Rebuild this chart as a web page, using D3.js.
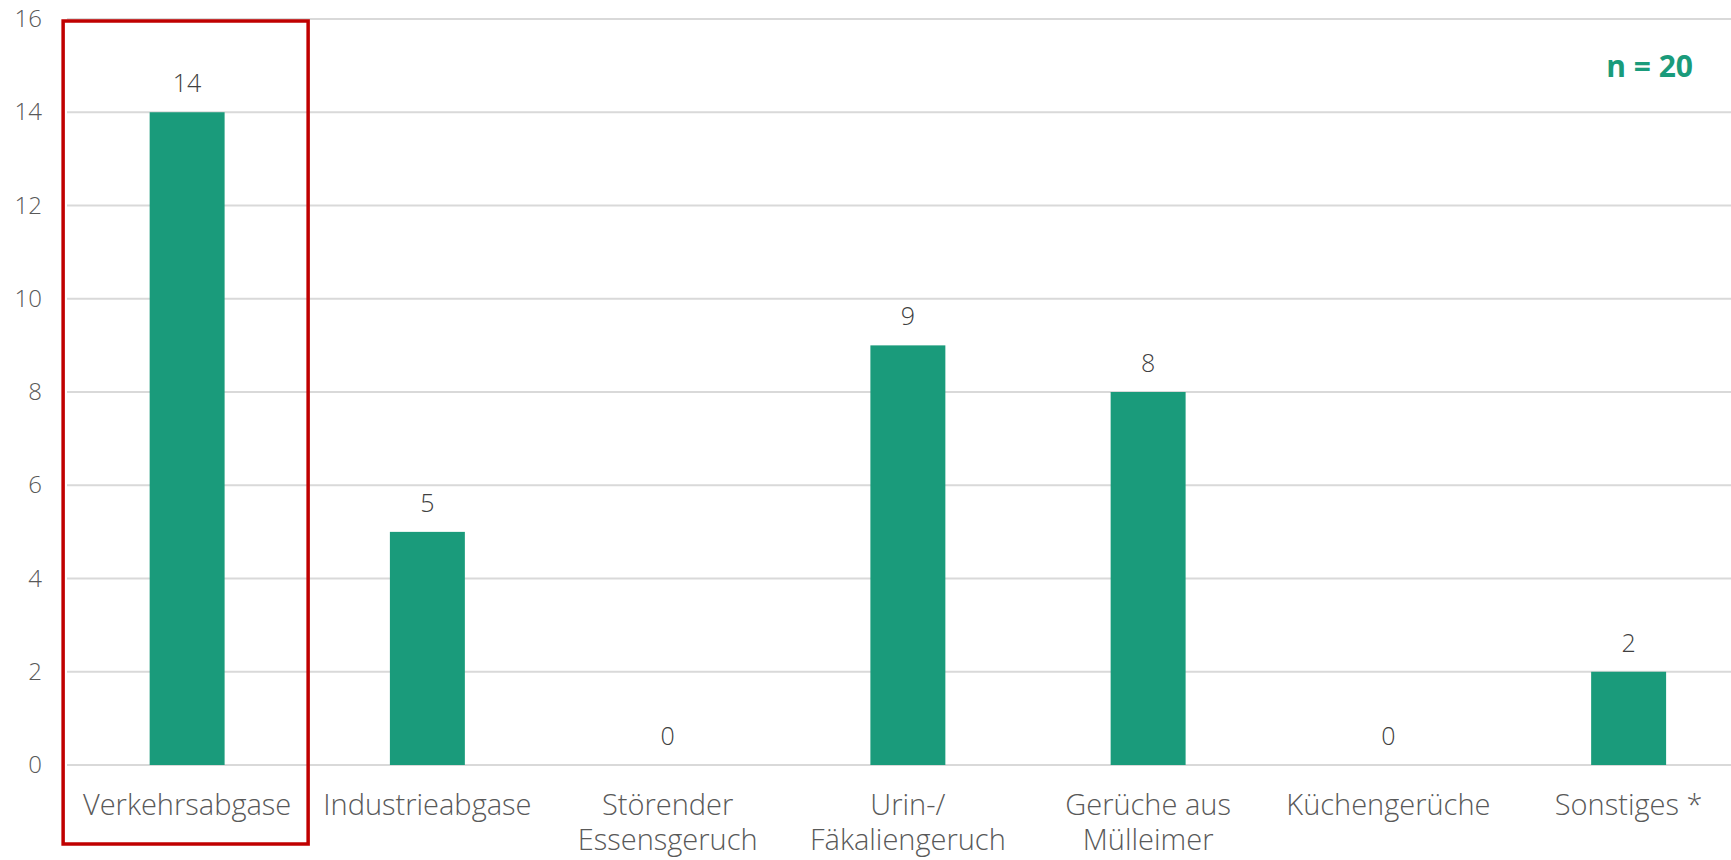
<!DOCTYPE html>
<html>
<head>
<meta charset="utf-8">
<script src="https://cdn.jsdelivr.net/npm/d3@7"></script>
<style>
  body { margin: 0; background: #fff; }
  svg text { font-family: "Open Sans", "Noto Sans", sans-serif; }
</style>
</head>
<body>
<div id="chart"></div>
<script>
// data
var categories = [
  ["Verkehrsabgase"],
  ["Industrieabgase"],
  ["Störender", "Essensgeruch"],
  ["Urin-/", "Fäkaliengeruch"],
  ["Gerüche aus", "Mülleimer"],
  ["Küchengerüche"],
  ["Sonstiges *"]
];
var values = [14, 5, 0, 9, 8, 0, 2];
var yTicks = [0, 2, 4, 6, 8, 10, 12, 14, 16];
var note = "n = 20";
var highlighted = 0;

var width = 1731, height = 860;
var left = 67, step = 240.25;

var svg = d3.select("#chart").append("svg")
    .attr("width", width)
    .attr("height", height);

var keys = categories.map(c => c.join(" "));

var x = d3.scaleBand()
    .domain(keys)
    .range([left, left + step * keys.length])
    .paddingInner(0.688)
    .paddingOuter(0.344);

var y = d3.scaleLinear()
    .domain([0, 16])
    .range([765, 19]);

// grid
svg.append("g")
    .selectAll("line")
    .data(yTicks)
    .enter().append("line")
    .attr("x1", left)
    .attr("x2", width)
    .attr("y1", d => y(d))
    .attr("y2", d => y(d))
    .attr("stroke", "#d9d9d9")
    .attr("stroke-width", 2);

// y axis labels
var yAxis = svg.append("g")
    .attr("transform", "translate(42,0)")
    .call(d3.axisLeft(y).tickValues(yTicks).tickSize(0).tickPadding(0));
yAxis.select(".domain").remove();
yAxis.selectAll("text")
    .attr("font-size", 24)
    .attr("fill", "#595959")
    .attr("font-weight", 300)
    .attr("font-family", "Open Sans");

// bars
svg.selectAll(".bar")
    .data(values)
    .enter().append("rect")
    .attr("class", "bar")
    .attr("x", (d, i) => x(keys[i]))
    .attr("width", x.bandwidth())
    .attr("y", d => y(d))
    .attr("height", d => y(0) - y(d))
    .attr("fill", "#1a9b7b");

// value labels
svg.selectAll(".val")
    .data(values)
    .enter().append("text")
    .attr("class", "val")
    .attr("text-anchor", "middle")
    .attr("x", (d, i) => x(keys[i]) + x.bandwidth() / 2)
    .attr("y", d => y(d) - 20)
    .attr("font-size", 25)
    .attr("font-weight", 300)
    .attr("fill", "#404040")
    .text(d => d);

// category labels
var cat = svg.selectAll(".cat")
    .data(categories)
    .enter().append("text")
    .attr("class", "cat")
    .attr("text-anchor", "middle")
    .attr("x", (d, i) => x(keys[i]) + x.bandwidth() / 2)
    .attr("y", 815)
    .attr("font-size", 29)
    .attr("font-weight", 300)
    .attr("fill", "#595959");
cat.selectAll("tspan")
    .data(d => d)
    .enter().append("tspan")
    .attr("x", function() { return this.parentNode.getAttribute("x"); })
    .attr("dy", (d, i) => i ? 35 : 0)
    .text(d => d);

// highlight box
var hx = x(keys[highlighted]) + x.bandwidth() / 2;
svg.append("rect")
    .attr("x", hx - 124)
    .attr("y", 21)
    .attr("width", 245)
    .attr("height", 823)
    .attr("fill", "none")
    .attr("stroke", "#c00000")
    .attr("stroke-width", 3.5);

// n label
svg.append("text")
    .attr("x", 1693)
    .attr("y", 77)
    .attr("text-anchor", "end")
    .attr("font-size", 30)
    .attr("font-weight", "bold")
    .attr("fill", "#1a9b7b")
    .text(note);
</script>
</body>
</html>
